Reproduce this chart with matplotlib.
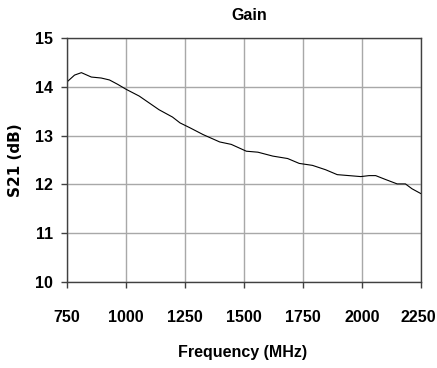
import matplotlib
matplotlib.use("Agg")
import matplotlib.pyplot as plt
import matplotlib.transforms as mtransforms
from matplotlib import rcParams

# Werte
freq_mhz = [750, 782, 811, 853, 895, 930, 965, 1000, 1056, 1140, 1197,
            1229, 1271, 1327, 1397, 1446, 1510, 1559, 1622, 1685, 1734,
            1790, 1846, 1895, 1945, 1995, 2030, 2058, 2100, 2149, 2184,
            2212, 2250]
s21_db = [14.10, 14.24, 14.29, 14.20, 14.18, 14.14, 14.05, 13.95, 13.81,
          13.53, 13.38, 13.26, 13.16, 13.02, 12.87, 12.82, 12.68, 12.66,
          12.58, 12.53, 12.43, 12.39, 12.30, 12.20, 12.18, 12.16, 12.18,
          12.18, 12.10, 12.01, 12.01, 11.91, 11.81]
xticks = [750, 1000, 1250, 1500, 1750, 2000, 2250]
yticks = [10, 11, 12, 13, 14, 15]

rcParams.update({
    "font.family": ["Liberation Sans", "DejaVu Sans"],
    "font.weight": "bold",
})

fig = plt.figure(figsize=(4.37, 3.68), dpi=100)
ax = fig.add_axes([67 / 437, 1 - 282 / 368, 354 / 437, 244 / 368])

ax.plot(freq_mhz, s21_db, color="black", linewidth=0.8)

ax.set_xlim(750, 2250)
ax.set_ylim(10, 15)
ax.set_xticks(xticks)
ax.set_yticks(yticks)
ax.grid(True, color="#a8a8a8", linewidth=1.0)
ax.set_axisbelow(True)
for sp in ax.spines.values():
    sp.set_color("#404040")
    sp.set_linewidth(1.0)
ax.tick_params(axis="x", direction="out", length=4, width=1, color="#404040",
               pad=16.5, labelsize=11.5)
ax.tick_params(axis="y", direction="out", length=4, width=1, color="#404040",
               pad=6, labelsize=11.5)
for lab in ax.get_xticklabels() + ax.get_yticklabels():
    lab.set_fontweight("bold")

# letzte Beschriftung etwas nach links, damit sie nicht abgeschnitten wird
last = ax.get_xticklabels()[-1]
shift = mtransforms.ScaledTranslation(-2.5 / 100, 0, fig.dpi_scale_trans)
last.set_transform(last.get_transform() + shift)

fig.text(249 / 437, 1 - 15 / 368, "Gain", ha="center", va="center",
         fontsize=11.5, fontweight="bold")
fig.text(243 / 437, 1 - 353 / 368, "Frequency (MHz)", ha="center",
         va="center", fontsize=11.5, fontweight="bold")
fig.text(16 / 437, 1 - 160 / 368, "S21 (dB)", ha="center", va="center",
         rotation=90, fontsize=11, fontweight="bold", family="DejaVu Sans")

fig.savefig("out.png", dpi=100)
